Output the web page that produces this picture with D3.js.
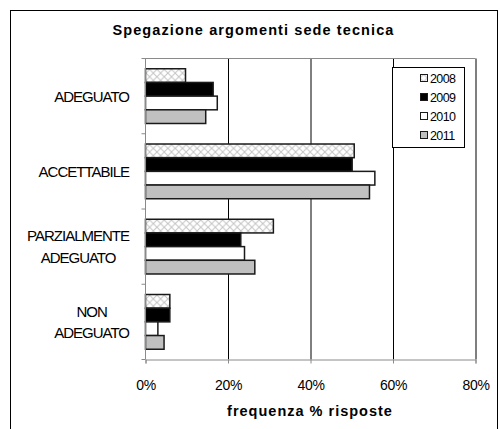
<!DOCTYPE html>
<html lang="it">
<head>
    <meta charset="UTF-8">
    <title>Spegazione argomenti sede tecnica</title>
    <script src="https://d3js.org/d3.v7.min.js"></script>
    <style>
        body { margin: 0; background: #fff; }
        svg text { font-family: "Liberation Sans", Arial, sans-serif; fill: #000; }
        .cat { font-size: 15px; letter-spacing: -1px; }
        .tick text { font-size: 14px; letter-spacing: -0.3px; }
        .legend text { font-size: 12.5px; letter-spacing: -0.6px; }
    </style>
</head>
<body>
<svg id="canvas" width="500" height="429"></svg>
<script>
    // dati
    let categorie = [["ADEGUATO"], ["ACCETTABILE"], ["PARZIALMENTE", "ADEGUATO"], ["NON", "ADEGUATO"]];
    let anni = ["2008", "2009", "2010", "2011"];
    let v2008 = [0.097, 0.506, 0.310, 0.059];
    let v2009 = [0.164, 0.501, 0.231, 0.059];
    let v2010 = [0.174, 0.556, 0.240, 0.030];
    let v2011 = [0.146, 0.543, 0.265, 0.045];
    let xTicks = [0, 0.2, 0.4, 0.6, 0.8];
    let serie = [v2008, v2009, v2010, v2011];

    let svg = d3.select('svg');

    // pattern a rombi per il 2008
    let defs = svg.append('defs');
    let pat = defs.append('pattern')
        .attr('id', 'hatch')
        .attr('patternUnits', 'userSpaceOnUse')
        .attr('width', 7.3).attr('height', 7.3);
    pat.append('rect').attr('width', 7.3).attr('height', 7.3).attr('fill', 'white');
    pat.append('path').attr('d', 'M0,0L7.3,7.3M7.3,0L0,7.3')
        .attr('stroke', '#c4c4c4').attr('stroke-width', 1);

    let fills = ['url(#hatch)', '#000', '#fff', '#c0c0c0'];

    // cornice esterna
    svg.append('rect')
        .attr('x', 10.5).attr('y', 10.5)
        .attr('width', 487).attr('height', 440)
        .attr('fill', 'none').attr('stroke', '#000');

    let pLeft = 145.5, pRight = 475.5, pTop = 58.5, pBottom = 359.5;

    let x = d3.scaleLinear().domain([0, 0.8]).range([pLeft, pRight]);
    let y = d3.scaleBand().domain(d3.range(categorie.length)).range([pTop, pBottom]);
    let yInner = d3.scaleBand().domain(anni).range([0, y.bandwidth()]).paddingOuter(0.75);

    // griglia verticale
    svg.append('g')
        .attr('transform', 'translate(0,' + pBottom + ')')
        .call(d3.axisBottom(x).tickValues(xTicks.slice(1)).tickSize(-(pBottom - pTop)).tickFormat(''))
        .call(g => g.select('.domain').remove())
        .call(g => g.selectAll('line').attr('stroke', '#000'));

    // bordo superiore dell'area
    svg.append('line')
        .attr('x1', pLeft - 3).attr('x2', pRight)
        .attr('y1', pTop).attr('y2', pTop)
        .attr('stroke', '#8a8a8a');

    // barre
    categorie.forEach(function (c, i) {
        let g = svg.append('g').attr('transform', 'translate(0,' + y(i) + ')');
        g.selectAll('rect')
            .data(anni)
            .enter()
            .append('rect')
            .attr('x', x(0))
            .attr('y', d => yInner(d))
            .attr('width', (d, k) => x(serie[k][i]) - x(0))
            .attr('height', yInner.bandwidth())
            .attr('fill', (d, k) => fills[k])
            .attr('stroke', '#1a1a1a')
            .attr('stroke-width', 1.5);
    });

    // asse x
    let xAxis = svg.append('g')
        .attr('transform', 'translate(0,' + pBottom + ')')
        .call(d3.axisBottom(x).tickValues(xTicks).tickSize(4).tickPadding(17)
            .tickFormat(d3.format('.0%')));
    xAxis.select('.domain').attr('stroke', '#8a8a8a');
    xAxis.selectAll('.tick line').attr('stroke', '#8a8a8a');

    // asse y (tacche ai confini delle categorie)
    svg.append('line')
        .attr('x1', pLeft).attr('x2', pLeft)
        .attr('y1', pTop).attr('y2', pBottom)
        .attr('stroke', '#8a8a8a');
    svg.selectAll('.ytick')
        .data(d3.range(categorie.length + 1))
        .enter()
        .append('line')
        .attr('class', 'ytick')
        .attr('x1', pLeft - 4).attr('x2', pLeft)
        .attr('y1', d => pTop + d * y.step())
        .attr('y2', d => pTop + d * y.step())
        .attr('stroke', '#8a8a8a');

    // etichette categorie (righe centrate, blocco allineato a destra)
    categorie.forEach(function (righe, i) {
        let cy = y(i) + y.bandwidth() / 2;
        let t = svg.append('g');
        let texts = righe.map(function (r, j) {
            return t.append('text')
                .attr('class', 'cat')
                .attr('y', cy + (j - (righe.length - 1) / 2) * 21.5)
                .attr('dy', '0.36em')
                .attr('text-anchor', 'middle')
                .text(r);
        });
        let w = d3.max(texts, tx => tx.node().getComputedTextLength());
        texts.forEach(tx => tx.attr('x', 129 - w / 2));
    });

    // titolo
    svg.append('text')
        .attr('x', 253.5).attr('y', 35)
        .attr('text-anchor', 'middle')
        .style('font-size', '14.5px').style('font-weight', 'bold')
        .style('letter-spacing', '1.1px')
        .text('Spegazione argomenti sede tecnica');

    // titolo asse x
    svg.append('text')
        .attr('x', 310).attr('y', 416)
        .attr('text-anchor', 'middle')
        .style('font-size', '14.5px').style('font-weight', 'bold')
        .style('letter-spacing', '1px')
        .text('frequenza % risposte');

    // legenda
    let leg = svg.append('g').attr('class', 'legend');
    leg.append('rect')
        .attr('x', 392.5).attr('y', 67.5)
        .attr('width', 72).attr('height', 80)
        .attr('fill', 'white').attr('stroke', '#000');
    let item = leg.selectAll('.item')
        .data(anni)
        .enter()
        .append('g')
        .attr('class', 'item')
        .attr('transform', (d, k) => 'translate(420,' + (78 + k * 19) + ')');
    item.append('rect')
        .attr('x', 0.5).attr('y', -3.5)
        .attr('width', 7).attr('height', 7)
        .attr('fill', (d, k) => fills[k])
        .attr('stroke', '#1a1a1a');
    item.append('text')
        .attr('x', 10).attr('dy', '0.36em')
        .text(d => d);
</script>
</body>
</html>
